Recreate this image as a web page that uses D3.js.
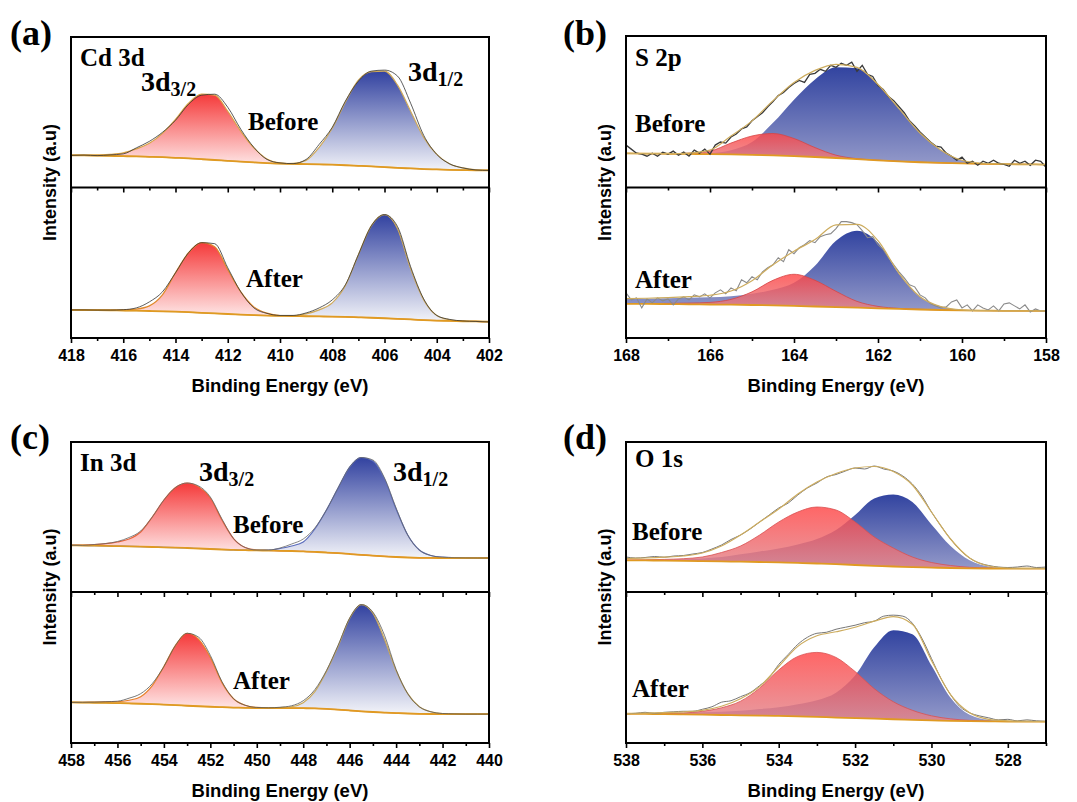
<!DOCTYPE html>
<html><head><meta charset="utf-8">
<script src="https://cdn.jsdelivr.net/npm/d3@7"></script>
<style>body{margin:0;background:#fff}</style>
</head><body>
<svg id="chart" width="1077" height="802"></svg>
<script>
// ---------- (a) Cd 3d ----------
const aEnergy = [418,417.5,417,416.5,416,415.5,415,414.5,414,413.5,413,412.5,412,411.5,411,410.5,410,409.5,409,408.5,408,407.5,407,406.5,406,405.5,405,404.5,404,403.5,403,402.5,402];
const aTicks = [418,416,414,412,410,408,406,404,402];
const aMinor = [417,415,413,411,409,407,405,403];
const aBeforeBase = [32,32,31.8,31.5,31.2,31,30.6,30.2,29.6,29,28.2,27.4,26.6,25.8,25,24.3,23.8,23.5,23.3,23,22.7,22.2,21.6,21,20.3,19.6,19,18.4,18,17.6,17.3,17.1,17];
const aBeforeRed = [32.2,32.3,32.5,33,34.5,38.5,44,54,68,84,93,92,76,56,39.5,28.5,24.5,23.6,23.3,23,22.7,22.2,21.6,21,20.3,19.6,19,18.4,18,17.6,17.3,17.1,17];
const aBeforeBlue = [32,32,31.8,31.5,31.2,31,30.6,30.2,29.6,29,28.2,27.4,26.6,25.8,25,24.3,23.8,24,27,40,59,85,107,115.5,116,102,76,50,33,23.5,19.5,17.6,17];
const aBeforeRaw = [32,32.3,31.8,32.5,33.5,39.5,46,55,67,83,92,93,80,58,40,28,24.5,23.8,28,43,60,86,106,116,117,111,84,52,33,23.5,19.5,17.5,17];
const aAfterBase = [28,27.9,27.8,27.6,27.4,27.2,26.9,26.6,26.2,25.7,25.1,24.5,23.9,23.3,22.8,22.4,22.1,21.9,21.7,21.5,21.3,21,20.6,20.2,19.7,19.1,18.5,17.9,17.4,17,16.7,16.5,16.3];
const aAfterRed = [28.1,28.1,28.1,28,28,28.8,32,43,65,85,95,91,68,46,31,24.8,22.4,21.9,21.7,21.5,21.3,21,20.6,20.2,19.7,19.1,18.5,17.9,17.4,17,16.7,16.5,16.3];
const aAfterBlue = [28,27.9,27.8,27.6,27.4,27.2,26.9,26.6,26.2,25.7,25.1,24.5,23.9,23.3,22.8,22.4,22.1,22.2,24,28,35,52,83,112,123,109,69,38,22.5,18.2,16.8,16.5,16.3];
const aAfterRaw = [28,28,27.8,27.8,28.2,30,36,46,65,85,95,94,70,46,30,24.5,22.5,22.5,25,30,38,53,83,112,123,111,71,39,22.5,18.5,17,16.5,16];

// ---------- (b) S 2p ----------
const bEnergy = [168,167.5,167,166.5,166,165.5,165,164.5,164,163.5,163,162.5,162,161.5,161,160.5,160,159.5,159,158.5,158];
const bTicks = [168,166,164,162,160,158];
const bMinor = [167,165,163,161,159];
const bBeforeBase = [33.7,33.6,33.4,33.2,33,32.7,32.3,31.8,31.1,30.2,29.2,28,26.9,25.9,25,24.3,23.8,23.4,23.1,22.9,22.7];
const bBeforeRed = [33.7,33.6,33.5,34,36,44,51,53.5,48.5,39.5,32,28.5,27,25.9,25,24.3,23.8,23.4,23.1,22.9,22.7];
const bBeforeBlue = [33.7,33.6,33.4,33.3,34,37,45,64,87,107,119,118,102,78,54,37,27,24,23.3,23,22.7];
const bBeforeFit = [33.7,33.6,33.5,34.1,37,51,66,86,104,116,122,119,102,78,54,37,27,24,23.3,23,22.7];
const bRawEnergy = [168,167.875,167.75,167.625,167.5,167.375,167.25,167.125,167,166.875,166.75,166.625,166.5,166.375,166.25,166.125,166,165.875,165.75,165.625,165.5,165.375,165.25,165.125,165,164.875,164.75,164.625,164.5,164.375,164.25,164.125,164,163.875,163.75,163.625,163.5,163.375,163.25,163.125,163,162.875,162.75,162.625,162.5,162.375,162.25,162.125,162,161.875,161.75,161.625,161.5,161.375,161.25,161.125,161,160.875,160.75,160.625,160.5,160.375,160.25,160.125,160,159.875,159.75,159.625,159.5,159.375,159.25,159.125,159,158.875,158.75,158.625,158.5,158.375,158.25,158.125,158];
const bBeforeRaw = [42,38,34,33,31,34,31,35,33,36,32,35,31,37,34,38,33,42,45,44,50,53,58,60,66,70,74,80,85,91,94,99,103,106,104,112,113,117,115,121,119,123,121,124,115,121,112,110,101,97,90,86,80,74,66,61,55,50,45,41,40,34,31,27,30,24,26,22,26,24,27,24,23,21,27,24,26,22,27,26,20];
const bAfterBase = [34,34,33.8,33.6,33.4,33.2,32.9,32.5,32,31.4,30.8,30.2,29.6,29,28.4,27.9,27.5,27.3,27.1,27,27];
const bAfterRed = [34.3,34.4,34.5,34.8,35.5,38.5,46,57.5,63.5,57.5,46.5,36.5,31.5,29.5,28.6,27.9,27.5,27.3,27.1,27,27];
const bAfterBlue = [39,39.2,39.5,40,40.5,41.5,44,48,55,72,97,107,95,64,41,31.3,28,27.3,27.1,27,27];
const bAfterFit = [39.3,39.6,40.2,41.2,42.6,46.8,57.1,73,86.5,98.1,112.7,113.3,97,64.5,41.2,31.3,28,27.3,27.1,27,27];
const bAfterRaw = [45,38,40,30,39,35,40,37,39,33,39,41,38,43,41,44,40,45,48,44,50,47,58,55,61,58,66,70,73,80,76,88,84,90,93,97,95,101,103,104,109,116,116,115,113,107,100,101,93,88,80,73,66,60,53,51,43,40,34,32,30,31,36,38,30,33,27,33,30,28,32,27,34,35,32,29,33,26,29,27,27];

// ---------- (c) In 3d ----------
const cEnergy = [458,457.5,457,456.5,456,455.5,455,454.5,454,453.5,453,452.5,452,451.5,451,450.5,450,449.5,449,448.5,448,447.5,447,446.5,446,445.5,445,444.5,444,443.5,443,442.5,442,441.5,441,440.5,440];
const cTicks = [458,456,454,452,450,448,446,444,442,440];
const cMinor = [457,455,453,451,449,447,445,443,441];
const cBeforeBase = [46.7,46.5,46.3,46.1,45.9,45.6,45.3,45,44.7,44.4,44,43.5,43,42.5,42.1,41.8,41.6,41.4,41.2,41,40.6,40.1,39.5,38.8,38,37.2,36.4,35.7,35,34.5,34.2,34.1,34,34,34,34,34];
const cBeforeRed = [46.8,46.9,47.4,48.3,50,53,60,75,92,104.5,109,105,94,72,53.4,44.5,42,41.5,41.2,41,40.6,40.1,39.5,38.8,38,37.2,36.4,35.7,35,34.5,34.2,34.1,34,34,34,34,34];
const cBeforeBlue = [46.7,46.5,46.3,46.1,45.9,45.6,45.3,45,44.7,44.4,44,43.5,43,42.5,42.1,41.8,41.6,41.8,43.5,46,50,63,82,104,125,134.5,131,113,83,57,42,36.5,34.8,34.3,34.1,34,34];
const cBeforeRaw = [46.7,46.6,47.5,48.5,50.5,54.5,61,75,92,104.5,109,106,95,73,53.4,44.5,42,42,44,48,53,64,82,104,125,134.5,132,114,84,57,42,36.5,34.8,34.3,34.1,34,34];
const cAfterBase = [40.3,40.2,40,39.8,39.6,39.3,39,38.6,38.1,37.6,37,36.5,36,35.6,35.2,34.9,34.7,34.7,34.7,34.7,34.6,34.3,33.8,33.1,32.3,31.5,30.8,30.2,29.7,29.3,29,28.8,28.7,28.7,28.7,28.7,28.7];
const cAfterRed = [40.4,40.5,40.6,40.8,41,42.5,46,57,76,97,109,103,85,60,44,37.5,35.3,34.8,34.7,34.7,34.6,34.3,33.8,33.1,32.3,31.5,30.8,30.2,29.7,29.3,29,28.8,28.7,28.7,28.7,28.7,28.7];
const cAfterBlue = [40.3,40.2,40,39.8,39.6,39.3,39,38.6,38.1,37.6,37,36.5,36,35.6,35.2,34.9,34.7,34.8,35.2,36,40,51,71,96,124,137.5,129,103,72,49,36,31,29.3,28.9,28.7,28.7,28.7];
const cAfterRaw = [40.3,40.5,40.6,41,41.5,44.5,49,59,76,97,109,105,87,61,44,37.5,35.3,35,35.5,37,42,53,72,97,124,137.5,130,107,73,49,36,31,29.3,28.9,28.7,28.7,28.7];

// ---------- (d) O 1s ----------
const dEnergy = [538,537.5,537,536.5,536,535.5,535,534.5,534,533.5,533,532.5,532,531.5,531,530.5,530,529.5,529,528.5,528,527.5,527];
const dTicks = [538,536,534,532,530,528];
const dMinor = [537,535,533,531,529,527];
const dBeforeBase = [31.7,31.6,31.4,31.2,30.9,30.6,30.3,30,29.6,29.1,28.5,27.8,27,26.2,25.5,24.9,24.4,24,23.7,23.5,23.4,23.4,23.4];
const dBeforeRed = [32,32.2,32.6,33.3,35,39.5,46,57,70,80,85,82,70,55,44,35,29.5,26.5,24.7,24,23.6,23.4,23.4];
const dBeforeBlue = [32,32.1,32.3,32.7,33.6,35,37.7,40.5,43.5,47.5,53,62,77,93.5,97.5,90,67.5,46,31.7,25.5,23.8,23.4,23.4];
const dBeforeFit = [33.5,34,34.8,36,39,46,57,70,83,98,110,118.5,124,125.5,120.5,107,80,53,34,26,24,23.6,23.5];
const dRawEnergy = [538,537.75,537.5,537.25,537,536.75,536.5,536.25,536,535.75,535.5,535.25,535,534.75,534.5,534.25,534,533.75,533.5,533.25,533,532.75,532.5,532.25,532,531.75,531.5,531.25,531,530.75,530.5,530.25,530,529.75,529.5,529.25,529,528.75,528.5,528.25,528,527.75,527.5,527.25,527];
const dBeforeRaw = [35,34,34.5,35.5,34.8,36,36.5,38,39.5,43,47,52.5,57,63,70,77,84,89,97,104,109,115,117.5,121,124,123,126,123,121,116,108,96,80,66,53,42,34,29,26.5,25,24.5,25,26,24.5,25];
const dAfterBase = [29,28.9,28.7,28.4,28.1,27.8,27.5,27.2,26.9,26.4,25.9,25.3,24.8,24.2,23.6,23,22.5,22,21.7,21.5,21.3,21.3,21.3];
const dAfterRed = [29.1,29.2,29.4,29.8,31.5,35,41.5,54.5,72.5,86,90,85,71,54,41,32.5,27,24,22.5,21.8,21.4,21.3,21.3];
const dAfterBlue = [29.3,29.4,29.6,30,30.5,31,32,33.7,35.5,38.5,42.5,50,67,95,112,108,77,45,28,23,21.8,21.4,21.3];
const dAfterFit = [29.5,29.7,30.2,31,32.5,36.5,44,56,76,96,106.5,110.5,115,121,125.5,118,82,48,30,23.5,22,21.5,21.3];
const dAfterRaw = [29,29.5,30.5,29.5,30.5,31,31.5,31.5,33.5,36,40.5,42,46,50,57,65,78,88,98,105,109,110,113,115,117,119.5,121,126,127,126,119,104,84,64,48,36,30,27,25,23,23.5,22,23,22,21.5];

// ---------- drawing ----------
const svg = d3.select('#chart');
const defs = svg.append('defs');
const SANS = "'Liberation Sans', Arial, sans-serif";
const SERIF = "'Liberation Serif', 'Times New Roman', serif";

function grad(id, c0, c1) {
  const g = defs.append('linearGradient').attr('id', id)
    .attr('x1', 0).attr('y1', 0).attr('x2', 0).attr('y2', 1);
  g.append('stop').attr('offset', 0).attr('stop-color', c0);
  g.append('stop').attr('offset', 1).attr('stop-color', c1);
}
grad('redSoft', '#f53a3a', '#fff3f3');
grad('blueSoft', '#3242a0', '#f3f4f9');
grad('redSolid', '#ff4545', '#e2858c');
grad('blueSolid', '#3244a0', '#9399c9');

const panels = [
  { tag: '(a)', tagX: 10, tagY: 45, left: 71, right: 489, top: 37, mid: 187.5, bottom: 338, dom: [418, 402], ticks: aTicks, minor: aMinor, soft: true,
    subs: [
      { E: aEnergy, base: aBeforeBase, red: aBeforeRed, blue: aBeforeBlue, fit: null, rawE: aEnergy, raw: aBeforeRaw, redLine: '#d9a245', blueLine: '#cfa95a', rawColor: '#333', rawW: 0.8, linear: false },
      { E: aEnergy, base: aAfterBase, red: aAfterRed, blue: aAfterBlue, fit: null, rawE: aEnergy, raw: aAfterRaw, redLine: '#e08a2c', blueLine: '#cfa95a', rawColor: '#333', rawW: 0.8, linear: false }
    ],
    notes: [
      { x: 80, y: 66, t: 'Cd 3d', s: 25 },
      { x: 141, y: 91, t: '3d', sub: '3/2', s: 28 },
      { x: 248, y: 130, t: 'Before', s: 25 },
      { x: 408, y: 81, t: '3d', sub: '1/2', s: 28 },
      { x: 246, y: 287, t: 'After', s: 25 }
    ] },
  { tag: '(b)', tagX: 563, tagY: 45, left: 626, right: 1046, top: 36, mid: 187.5, bottom: 338, dom: [168, 158], ticks: bTicks, minor: bMinor, soft: false,
    subs: [
      { E: bEnergy, base: bBeforeBase, red: bBeforeRed, blue: bBeforeBlue, fit: bBeforeFit, rawE: bRawEnergy, raw: bBeforeRaw, redLine: '#d54545', blueLine: null, rawColor: '#3a3a3a', rawW: 1.3, linear: true },
      { E: bEnergy, base: bAfterBase, red: bAfterRed, blue: bAfterBlue, fit: bAfterFit, rawE: bRawEnergy, raw: bAfterRaw, redLine: '#d54545', blueLine: null, rawColor: '#8a8a8a', rawW: 1.1, linear: true }
    ],
    notes: [
      { x: 635, y: 66, t: 'S 2p', s: 25 },
      { x: 635, y: 132, t: 'Before', s: 25 },
      { x: 635, y: 288, t: 'After', s: 25 }
    ] },
  { tag: '(c)', tagX: 10, tagY: 449, left: 71, right: 489, top: 442, mid: 592, bottom: 743, dom: [458, 440], ticks: cTicks, minor: cMinor, soft: true,
    subs: [
      { E: cEnergy, base: cBeforeBase, red: cBeforeRed, blue: cBeforeBlue, fit: null, rawE: cEnergy, raw: cBeforeRaw, redLine: '#e8643a', blueLine: '#5a6cbc', rawColor: '#666', rawW: 0.8, linear: false },
      { E: cEnergy, base: cAfterBase, red: cAfterRed, blue: cAfterBlue, fit: null, rawE: cEnergy, raw: cAfterRaw, redLine: '#e8822a', blueLine: '#c9a85a', rawColor: '#555', rawW: 0.8, linear: false }
    ],
    notes: [
      { x: 80, y: 471, t: 'In 3d', s: 25 },
      { x: 199, y: 481, t: '3d', sub: '3/2', s: 28 },
      { x: 393, y: 481, t: '3d', sub: '1/2', s: 28 },
      { x: 233, y: 533, t: 'Before', s: 25 },
      { x: 233, y: 689, t: 'After', s: 25 }
    ] },
  { tag: '(d)', tagX: 563, tagY: 449, left: 626, right: 1046, top: 442, mid: 592, bottom: 743, dom: [538, 527], ticks: dTicks, minor: dMinor, soft: false,
    subs: [
      { E: dEnergy, base: dBeforeBase, red: dBeforeRed, blue: dBeforeBlue, fit: dBeforeFit, rawE: dRawEnergy, raw: dBeforeRaw, redLine: '#d85050', blueLine: null, rawColor: '#777', rawW: 1, linear: false },
      { E: dEnergy, base: dAfterBase, red: dAfterRed, blue: dAfterBlue, fit: dAfterFit, rawE: dRawEnergy, raw: dAfterRaw, redLine: '#d85050', blueLine: null, rawColor: '#777', rawW: 1, linear: false }
    ],
    notes: [
      { x: 635, y: 467, t: 'O 1s', s: 25 },
      { x: 632, y: 540, t: 'Before', s: 25 },
      { x: 632, y: 697, t: 'After', s: 25 }
    ] }
];

let clipN = 0;
panels.forEach(p => {
  const g = svg.append('g');
  const x = d3.scaleLinear().domain(p.dom).range([p.left, p.right]);

  p.subs.forEach((s, i) => {
    const y0 = i === 0 ? p.mid : p.bottom;
    const y1 = i === 0 ? p.top : p.mid;
    const y = d3.scaleLinear().domain([0, 150]).range([y0, y1]);
    const cid = 'clip' + (clipN++);
    defs.append('clipPath').attr('id', cid).append('rect')
      .attr('x', p.left).attr('y', y1).attr('width', p.right - p.left).attr('height', y0 - y1);
    const sg = g.append('g').attr('clip-path', `url(#${cid})`);
    const idx = d3.range(s.E.length);
    const curve = d3.curveMonotoneX;
    const area = arr => d3.area().curve(curve).x(k => x(s.E[k])).y0(k => y(s.base[k])).y1(k => y(arr[k]))(idx);
    const line = arr => d3.line().curve(curve).x(k => x(s.E[k])).y(k => y(arr[k]))(idx);

    sg.append('path').attr('d', area(s.blue))
      .attr('fill', p.soft ? 'url(#blueSoft)' : 'url(#blueSolid)');
    sg.append('path').attr('d', area(s.red))
      .attr('fill', p.soft ? 'url(#redSoft)' : 'url(#redSolid)')
      .attr('fill-opacity', p.soft ? 1 : 0.82);
    if (s.redLine) sg.append('path').attr('d', line(s.red)).attr('fill', 'none').attr('stroke', s.redLine).attr('stroke-width', p.soft ? 1.2 : 0.8);
    if (s.blueLine) sg.append('path').attr('d', line(s.blue)).attr('fill', 'none').attr('stroke', s.blueLine).attr('stroke-width', 1.2);
    sg.append('path').attr('d', line(s.base)).attr('fill', 'none').attr('stroke', '#e09a22').attr('stroke-width', 1.8);
    const ridx = d3.range(s.rawE.length);
    sg.append('path')
      .attr('d', d3.line().curve(s.linear ? d3.curveLinear : d3.curveMonotoneX).x(k => x(s.rawE[k])).y(k => y(s.raw[k]))(ridx))
      .attr('fill', 'none').attr('stroke', s.rawColor).attr('stroke-width', s.rawW);
    if (s.fit) sg.append('path').attr('d', line(s.fit)).attr('fill', 'none').attr('stroke', '#cdac5e').attr('stroke-width', 1.2);
  });

  // frame + divider
  g.append('rect').attr('x', p.left).attr('y', p.top).attr('width', p.right - p.left).attr('height', p.bottom - p.top)
    .attr('fill', 'none').attr('stroke', '#000').attr('stroke-width', 2);
  g.append('line').attr('x1', p.left).attr('x2', p.right).attr('y1', p.mid).attr('y2', p.mid)
    .attr('stroke', '#000').attr('stroke-width', 2);

  // axes
  const drawAxis = (yPos, labels) => {
    const maj = g.append('g').attr('transform', `translate(0,${yPos})`)
      .call(d3.axisBottom(x).tickValues(p.ticks).tickSize(5).tickFormat(labels ? d3.format('d') : ''));
    const mn = g.append('g').attr('transform', `translate(0,${yPos})`)
      .call(d3.axisBottom(x).tickValues(p.minor).tickSize(3).tickFormat(''));
    [maj, mn].forEach(a => {
      a.select('.domain').remove();
      a.selectAll('line').attr('stroke', '#000').attr('stroke-width', 1.6);
    });
    maj.selectAll('text').attr('y', 12).attr('dy', '0.71em')
      .style('font-family', SANS).style('font-weight', 'bold').style('font-size', '16px').attr('fill', '#000');
  };
  drawAxis(p.mid, false);
  drawAxis(p.bottom, true);

  // axis titles
  g.append('text').attr('x', (p.left + p.right) / 2).attr('y', p.bottom + 54)
    .attr('text-anchor', 'middle').style('font-family', SANS).style('font-weight', 'bold').style('font-size', '18.5px')
    .text('Binding Energy (eV)');
  g.append('text').attr('transform', `translate(${p.left - 15},${p.mid - 5}) rotate(-90)`)
    .attr('text-anchor', 'middle').style('font-family', SANS).style('font-weight', 'bold').style('font-size', '18px')
    .text('Intensity (a.u)');

  // panel tag
  g.append('text').attr('x', p.tagX).attr('y', p.tagY)
    .style('font-family', SERIF).style('font-weight', 'bold').style('font-size', '36px').text(p.tag);

  // annotations
  p.notes.forEach(n => {
    const t = g.append('text').attr('x', n.x).attr('y', n.y)
      .style('font-family', SERIF).style('font-weight', 'bold').style('font-size', n.s + 'px');
    t.append('tspan').text(n.t);
    if (n.sub) t.append('tspan').attr('dy', 5).style('font-size', '20px').text(n.sub);
  });
});
</script>
</body></html>
